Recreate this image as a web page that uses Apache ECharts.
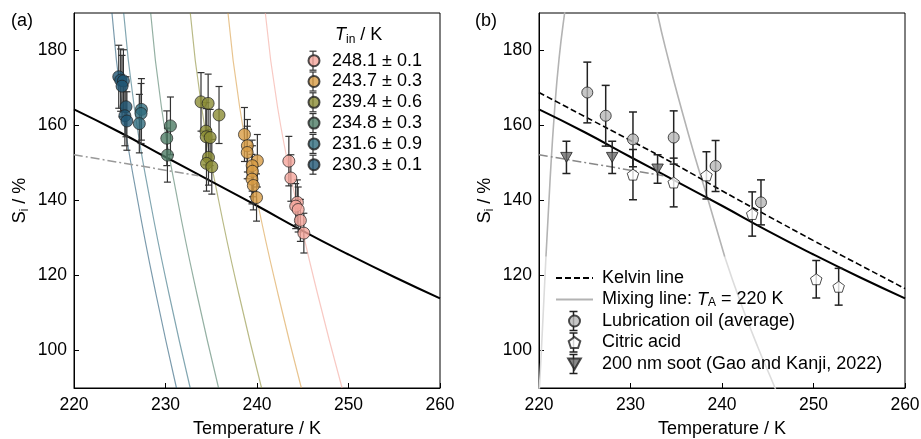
<!DOCTYPE html>
<html>
<head>
<meta charset="utf-8">
<script src="https://cdn.jsdelivr.net/npm/echarts@6/dist/echarts.min.js"></script>
<style>
  html, body { margin: 0; padding: 0; background: #fff; }
  #chart { width: 921px; height: 439px; }
</style>
</head>
<body>
<div id="chart"></div>
<script>
// ---- data ----
const xTicks = [220, 230, 240, 250, 260]
const yTicks = [100, 120, 140, 160, 180]

// smooth curves sampled every 5 K
const curveT = [220, 225, 230, 235, 240, 245, 250, 255, 260]
const iceLineS = [164.3, 158.2, 151.6, 145.1, 138.6, 131.9, 125.6, 119.6, 113.9]
const kelvinLineS = [168.8, 162.4, 156.0, 149.5, 142.6, 135.9, 129.3, 122.9, 116.5]
const sootFitT = [220, 233.6]
const sootFitS = [152.2, 146.6]

// panel (a): T_in groups, each point [T, Si, err]
const tinLabels = ['248.1 ± 0.1', '243.7 ± 0.3', '239.4 ± 0.6', '234.8 ± 0.3', '231.6 ± 0.9', '230.3 ± 0.1']
const g248 = [[243.48, 150.5, 6.6], [243.7, 146.0, 6.2], [244.41, 139.5, 6.0], [244.23, 138.5, 6.0], [244.5, 137.6, 6.0], [244.74, 134.7, 5.6], [245.12, 131.3, 5.3]]
const g243 = [[238.63, 157.6, 7.2], [238.95, 154.6, 7.0], [238.93, 152.8, 7.0], [240.04, 150.6, 7.0], [239.47, 149.3, 6.8], [239.5, 147.8, 6.8], [239.45, 145.7, 6.6], [239.6, 144.0, 6.5], [239.95, 140.8, 6.3]]
const g239 = [[233.88, 166.3, 7.8], [234.66, 165.9, 7.8], [235.85, 162.8, 7.6], [234.42, 158.5, 7.6], [234.45, 157.0, 7.5], [234.88, 156.8, 7.5], [234.7, 151.5, 7.4], [234.48, 149.9, 7.4], [235.06, 149.0, 7.3]]
const g234 = [[230.54, 159.9, 7.7], [230.14, 156.6, 7.3], [230.21, 152.1, 7.2]]
const g231 = [[227.37, 164.3, 8.2], [227.33, 163.2, 8.0], [227.14, 160.5, 7.8]]
const g230 = [[224.89, 173.0, 8.4], [225.1, 172.1, 8.3], [225.4, 171.9, 8.3], [225.25, 170.5, 8.2], [225.68, 165.0, 8.0], [225.56, 162.6, 8.0], [225.78, 161.2, 7.8]]
const groups = [g248, g243, g239, g234, g231, g230]

// panel (a): mixing lines, T where each curve crosses these Si levels
const mixLevels = [190, 165, 140, 115, 90]
const mix248 = [240.91, 242.24, 244.25, 246.63, 249.3]
const mix243 = [236.83, 238.1, 240.02, 242.3, 244.85]
const mix239 = [232.71, 233.94, 235.81, 238.02, 240.5]
const mix234 = [228.38, 229.55, 231.33, 233.44, 235.8]
const mix231 = [225.43, 226.58, 228.32, 230.39, 232.7]
const mix230 = [224.15, 225.26, 226.96, 228.96, 231.2]
const mixCurves = [mix248, mix243, mix239, mix234, mix231, mix230]

// panel (b)
const oil = [[225.28, 168.8, 8.1], [227.29, 162.6, 8.1], [230.27, 156.3, 7.3], [234.72, 156.8, 7.1], [239.3, 149.2, 6.8], [244.26, 139.5, 6.0]]
const citric = [[230.27, 146.9, 6.7], [234.72, 144.8, 6.5], [238.3, 146.7, 6.3], [243.3, 136.4, 5.9], [250.3, 119.0, 5.0], [252.75, 117.0, 4.9]]
const soot = [[223.0, 151.5, 4.3], [228.0, 151.5, 4.3], [232.96, 148.4, 3.8]]

// mixing line T_A = 220 K (b), split where it turns pale
const mixLowLeft = [[220.0, 88], [220.2, 97], [220.7, 122], [220.76, 125]]
const mixUpper = [[220.76, 125], [221.2, 145], [221.7, 164], [222.2, 178], [222.8, 190], [223.5, 202], [232.2, 200], [232.93, 190], [234.2, 177], [235.5, 165], [237.0, 152], [238.5, 140], [240.3, 125]]
const mixLowRight = [[240.3, 125], [242.0, 113], [243.9, 101], [245.8, 90], [246.1, 88]]

// ---- styles ----
const FONT = 'Liberation Sans, Arial, sans-serif'
const FS = 18
const FS_TICK = 17.5
const tinColors = ['#f4a59b', '#d89c45', '#8b8c35', '#4d7c65', '#2f6b7d', '#215674']
const MIX_NAME = 'Mixing line: T_A = 220 K'

const chart = echarts.init(document.getElementById('chart'), null, { renderer: 'canvas' })

function makeAxes (gridIndex) {
  const x = {
    gridIndex,
    type: 'value',
    min: 220,
    max: 260,
    interval: 10,
    axisLine: { show: true, onZero: false, lineStyle: { color: '#000', width: 1 } },
    axisTick: { inside: true, length: 5, lineStyle: { color: '#000' } },
    axisLabel: { color: '#000', fontSize: FS_TICK, fontFamily: FONT, margin: 8 },
    splitLine: { show: false },
    name: 'Temperature / K',
    nameLocation: 'middle',
    nameGap: 32,
    nameTextStyle: { color: '#000', fontSize: FS, fontFamily: FONT }
  }
  const y = {
    gridIndex,
    type: 'value',
    min: 90,
    max: 190,
    interval: 10,
    axisLine: { show: true, onZero: false, lineStyle: { color: '#000', width: 1 } },
    axisTick: { inside: true, length: 5, customValues: yTicks, lineStyle: { color: '#000' } },
    axisLabel: { color: '#000', fontSize: FS_TICK, fontFamily: FONT, margin: 7, customValues: yTicks },
    splitLine: { show: false },
    name: '{a|S}{b|i}{a| / %}',
    nameLocation: 'middle',
    nameGap: 43,
    nameTextStyle: {
      rich: {
        a: { color: '#000', fontSize: FS, fontFamily: FONT },
        b: { color: '#000', fontSize: 12, fontFamily: FONT, verticalAlign: 'bottom', padding: [9, 0, 0, 0] }
      }
    }
  }
  return { x, y }
}

function errorBars (data, axis, capHalf, width, color) {
  return {
    type: 'custom',
    xAxisIndex: axis,
    yAxisIndex: axis,
    silent: true,
    z: 3,
    data: data.map(d => [d[0], d[1] - d[2], d[1] + d[2]]),
    encode: { x: 0, y: [1, 2] },
    renderItem (params, api) {
      const lo = api.coord([api.value(0), api.value(1)])
      const hi = api.coord([api.value(0), api.value(2)])
      const style = { stroke: color, lineWidth: width }
      return {
        type: 'group',
        children: [
          { type: 'line', shape: { x1: lo[0], y1: lo[1], x2: hi[0], y2: hi[1] }, style },
          { type: 'line', shape: { x1: lo[0] - capHalf, y1: lo[1], x2: lo[0] + capHalf, y2: lo[1] }, style },
          { type: 'line', shape: { x1: hi[0] - capHalf, y1: hi[1], x2: hi[0] + capHalf, y2: hi[1] }, style }
        ]
      }
    }
  }
}

function curve (T, S, axis, name, lineStyle, z) {
  return {
    type: 'line',
    name,
    xAxisIndex: axis,
    yAxisIndex: axis,
    data: T.map((t, i) => [t, S[i]]),
    symbol: 'none',
    smooth: true,
    silent: true,
    itemStyle: { color: lineStyle.color },
    lineStyle,
    z
  }
}

const a = makeAxes(0)
const b = makeAxes(1)
const series = []

// (a) mixing lines, faint
mixCurves.forEach((c, i) => {
  series.push({
    type: 'line',
    xAxisIndex: 0,
    yAxisIndex: 0,
    data: c.map((t, k) => [t, mixLevels[k]]),
    symbol: 'none',
    smooth: true,
    silent: true,
    lineStyle: { color: tinColors[i], width: 1.2, opacity: 0.6 },
    z: 1
  })
})
series.push(curve(curveT, iceLineS, 0, 'ice', { color: '#000', width: 2 }, 2))
series.push(curve(sootFitT, sootFitS, 0, 'sootfit', { color: '#999', width: 1.5, type: [9, 3, 2, 3] }, 2))
groups.forEach((g, i) => {
  series.push(errorBars(g, 0, 3.5, 1.2, '#333'))
  series.push({
    type: 'scatter',
    name: tinLabels[i],
    xAxisIndex: 0,
    yAxisIndex: 0,
    data: g.map(p => [p[0], p[1]]),
    symbol: 'circle',
    symbolSize: 12,
    itemStyle: { color: tinColors[i], borderColor: '#222', borderWidth: 0.9 },
    z: 4
  })
})

// (b)
series.push(curve(curveT, kelvinLineS, 1, 'Kelvin line', { color: '#000', width: 1.6, type: [6, 3] }, 2))
series.push(curve(mixUpper.map(p => p[0]), mixUpper.map(p => p[1]), 1, MIX_NAME, { color: '#b3b3b3', width: 1.6 }, 1))
series.push(curve(mixLowLeft.map(p => p[0]), mixLowLeft.map(p => p[1]), 1, MIX_NAME, { color: '#dcdcdc', width: 1.6 }, 1))
series.push(curve(mixLowRight.map(p => p[0]), mixLowRight.map(p => p[1]), 1, MIX_NAME, { color: '#dcdcdc', width: 1.6 }, 1))
series.push(curve(curveT, iceLineS, 1, 'ice', { color: '#000', width: 2 }, 2))
series.push(curve(sootFitT, sootFitS, 1, 'sootfit', { color: '#888', width: 1.5, type: [9, 3, 2, 3] }, 2))

const PENTAGON = 'path://M0,-1L0.951,-0.309L0.588,0.809L-0.588,0.809L-0.951,-0.309Z'
const TRI_DOWN = 'path://M0,0L10,0L5,8.66Z'
const bSets = [
  { name: 'Lubrication oil (average)', data: oil, symbol: 'circle', size: 11, color: '#b8b8b8' },
  { name: 'Citric acid', data: citric, symbol: PENTAGON, size: 11.5, color: '#fff' },
  { name: '200 nm soot (Gao and Kanji, 2022)', data: soot, symbol: TRI_DOWN, size: 11.5, color: '#6b6b6b' }
]
bSets.forEach(s => {
  series.push(errorBars(s.data, 1, 4, 1.5, '#222'))
  series.push({
    type: 'scatter',
    name: s.name,
    xAxisIndex: 1,
    yAxisIndex: 1,
    data: s.data.map(p => [p[0], p[1]]),
    symbol: s.symbol,
    symbolSize: s.size,
    symbolKeepAspect: true,
    itemStyle: { color: s.color, borderColor: '#222', borderWidth: 1 },
    z: 4
  })
})

// legend error-bar glyphs and labels
const graphic = [
  { type: 'text', left: 11, top: 12, style: { text: '(a)', font: `${FS}px ${FONT}`, fill: '#000' } },
  { type: 'text', left: 475, top: 12, style: { text: '(b)', font: `${FS}px ${FONT}`, fill: '#000' } },
  {
    type: 'text',
    left: 335,
    top: 26,
    style: {
      text: '{i|T}{s|in}{n| / K}',
      rich: {
        i: { font: `italic ${FS}px ${FONT}`, fill: '#000' },
        s: { font: `12px ${FONT}`, fill: '#000', verticalAlign: 'bottom', padding: [9, 0, 0, 0] },
        n: { font: `${FS}px ${FONT}`, fill: '#000' }
      }
    }
  }
]
const legA = { left: 307.5, top: 51.7, lh: 18, gap: 20.8, cx: 313 }
tinLabels.forEach((_, i) => {
  const cy = legA.top + legA.lh / 2 + i * legA.gap
  const st = { stroke: '#333', lineWidth: 1.2 }
  graphic.push({ type: 'line', z: 1, shape: { x1: legA.cx, y1: cy - 9.5, x2: legA.cx, y2: cy + 9.5 }, style: st })
  graphic.push({ type: 'line', z: 1, shape: { x1: legA.cx - 3.5, y1: cy - 9.5, x2: legA.cx + 3.5, y2: cy - 9.5 }, style: st })
  graphic.push({ type: 'line', z: 1, shape: { x1: legA.cx - 3.5, y1: cy + 9.5, x2: legA.cx + 3.5, y2: cy + 9.5 }, style: st })
})
const legB = { left: 555, top: 268.5, lh: 19, gap: 21.5, cx: 573.5 }
bSets.forEach((_, i) => {
  const cy = legB.top + legB.lh / 2 + (i + 2) * legB.gap
  const st = { stroke: '#222', lineWidth: 1.5 }
  graphic.push({ type: 'line', z: 1, shape: { x1: legB.cx, y1: cy - 9.5, x2: legB.cx, y2: cy + 9.5 }, style: st })
  graphic.push({ type: 'line', z: 1, shape: { x1: legB.cx - 4, y1: cy - 9.5, x2: legB.cx + 4, y2: cy - 9.5 }, style: st })
  graphic.push({ type: 'line', z: 1, shape: { x1: legB.cx - 4, y1: cy + 9.5, x2: legB.cx + 4, y2: cy + 9.5 }, style: st })
})

const gridBase = { top: 13, width: 366, height: 375, show: true, borderColor: '#000', borderWidth: 1, backgroundColor: 'transparent', containLabel: false, outerBoundsMode: 'none' }

chart.setOption({
  animation: false,
  backgroundColor: '#fff',
  grid: [
    Object.assign({ left: 74 }, gridBase),
    Object.assign({ left: 539 }, gridBase)
  ],
  xAxis: [a.x, b.x],
  yAxis: [a.y, b.y],
  legend: [
    {
      data: tinLabels,
      orient: 'vertical',
      align: 'left',
      left: legA.left,
      top: legA.top,
      itemWidth: 11,
      itemHeight: 11,
      itemGap: legA.gap - legA.lh,
      padding: 0,
      selectedMode: false,
      textStyle: { color: '#000', fontSize: FS, fontFamily: FONT, lineHeight: legA.lh, padding: [0, 0, 0, 7.5] }
    },
    {
      data: [
        { name: 'Kelvin line', itemStyle: { opacity: 0 } },
        { name: MIX_NAME, itemStyle: { opacity: 0 } }
      ].concat(bSets.map(s => s.name)),
      orient: 'vertical',
      align: 'left',
      left: legB.left,
      top: legB.top,
      itemWidth: 37,
      itemHeight: 11,
      itemGap: legB.gap - legB.lh,
      padding: 0,
      selectedMode: false,
      formatter (name) {
        if (name === MIX_NAME) return '{n|Mixing line: }{i|T}{s|A}{n| = 220 K}'
        return '{n|' + name + '}'
      },
      textStyle: {
        color: '#000',
        fontSize: FS,
        fontFamily: FONT,
        lineHeight: legB.lh,
        padding: [0, 0, 0, 4],
        rich: {
          n: { fontSize: FS, fontFamily: FONT, color: '#000', lineHeight: legB.lh },
          i: { fontSize: FS, fontFamily: FONT, color: '#000', fontStyle: 'italic', lineHeight: legB.lh },
          s: { fontSize: 12, fontFamily: FONT, color: '#000', verticalAlign: 'bottom', padding: [9, 0, 0, 0] }
        }
      }
    }
  ],
  graphic,
  series
})
</script>
</body>
</html>
